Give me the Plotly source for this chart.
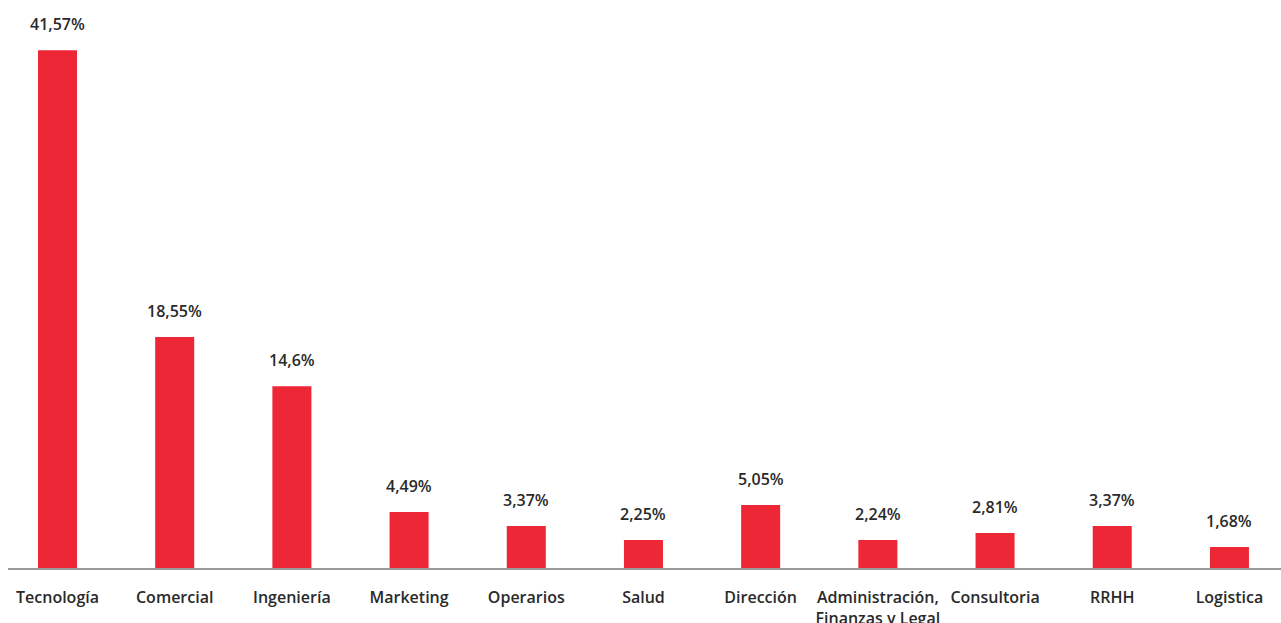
import plotly.graph_objects as go

categories = ["Tecnología", "Comercial", "Ingeniería", "Marketing", "Operarios", "Salud",
              "Dirección", "Administración,<br>Finanzas y Legal", "Consultoria", "RRHH", "Logistica"]
values = [41.57, 18.55, 14.6, 4.49, 3.37, 2.25, 5.05, 2.24, 2.81, 3.37, 1.68]
labels = ["41,57%", "18,55%", "14,6%", "4,49%", "3,37%", "2,25%", "5,05%", "2,24%", "2,81%", "3,37%", "1,68%"]

FONT = "Open Sans"
TXT = "#2a2a2a"

fig = go.Figure(go.Bar(
    x=list(range(len(categories))), y=values,
    marker=dict(color="#ee2737", line=dict(width=0)),
    width=0.333,
    hoverinfo="skip",
))

for i, (v, t) in enumerate(zip(values, labels)):
    fig.add_annotation(x=i, y=v, text=t, showarrow=False, yanchor="middle", yshift=26,
                       font=dict(family=FONT, size=16, color=TXT, weight=600))

fig.update_layout(
    width=1281, height=623,
    margin=dict(l=8, r=0, t=0, b=55),
    paper_bgcolor="white", plot_bgcolor="white",
    showlegend=False,
    xaxis=dict(
        tickmode="array", tickvals=list(range(len(categories))), ticktext=categories,
        range=[-0.4224, 10.44],
        showgrid=False, zeroline=False, automargin=False,
        showline=True, linecolor="#9a9a9a", linewidth=1.5,
        ticks="outside", ticklen=14, tickcolor="rgba(0,0,0,0)",
        tickfont=dict(family=FONT, size=16, color=TXT, weight=600),
        tickangle=0,
    ),
    yaxis=dict(range=[0, 45.6], visible=False, showgrid=False, zeroline=False, automargin=False),
)

fig.write_html("out.html",
               config={"displayModeBar": False},
               post_script="document.body.style.margin='0';document.body.style.overflow='hidden';")
